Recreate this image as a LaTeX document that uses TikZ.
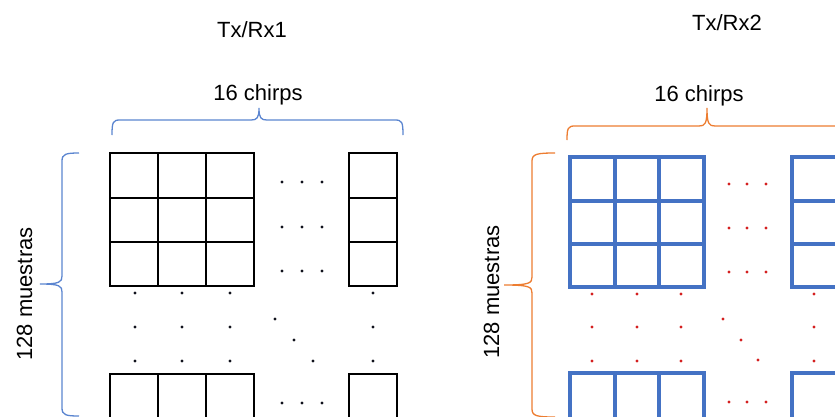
\documentclass[tikz,border=0pt]{standalone}
\usepackage{fontspec}
\setmainfont{Liberation Sans}
\definecolor{cellblue}{HTML}{4472C4}
\definecolor{braceblue}{HTML}{5B85D0}
\definecolor{braceorange}{HTML}{ED7D31}
\definecolor{dotred}{HTML}{D42020}
\definecolor{dotdark}{HTML}{10121C}
\begin{document}
\begin{tikzpicture}[x=1pt,y=-1pt,
  cellsA/.style={draw=black,line width=2.4pt},
  cellsB/.style={draw=cellblue,line width=3.2pt},
  braceA/.style={draw=braceblue,line width=1.3pt},
  braceB/.style={draw=braceorange,line width=1.3pt},
  lbl/.style={font=\fontsize{22}{26}\selectfont,text=black,inner sep=0pt,anchor=base},
  dotA/.style={fill=dotdark},
  dotB/.style={fill=dotred}]
\useasboundingbox (0,0) rectangle (835,416);
\clip (0,0) rectangle (835,416);

% ---------------- first matrix (Tx/Rx1) ----------------
\node[lbl] (title1) at (252,37) {Tx/Rx1};
\node[lbl] (chirps1) at (258,100) {16 chirps};
\node[lbl,rotate=90] (samples1) at (32,294) {128 muestras};

% brace over the chirps
\draw[braceA] (112,135) .. controls (112,122) and (113,120) .. (120,120) -- (251,120)
  .. controls (257,120) and (259,118) .. (259,108)
  .. controls (259,118) and (261,120) .. (267,120) -- (395,120)
  .. controls (402,120) and (403,122) .. (403,135);
% brace beside the samples
\draw[braceA] (79,153) .. controls (66,153) and (62,154) .. (62,161) -- (62,276)
  .. controls (62,282) and (60,284) .. (40,284)
  .. controls (60,284) and (62,286) .. (62,292) -- (62,408)
  .. controls (62,415) and (66,416) .. (79,416);

% 3x3 block of cells
\draw[cellsA] (110,153) rectangle (254,286);
\foreach \x in {158,206} \draw[cellsA] (\x,153) -- (\x,286);
\foreach \y in {198,242} \draw[cellsA] (110,\y) -- (254,\y);
% last column
\draw[cellsA] (349,153) rectangle (397,286);
\foreach \y in {198,242} \draw[cellsA] (349,\y) -- (397,\y);
% last row
\draw[cellsA] (110,374) rectangle (254,440);
\foreach \x in {158,206} \draw[cellsA] (\x,374) -- (\x,440);
\draw[cellsA] (349,374) rectangle (397,440);

% ellipsis dots
\foreach \y in {182,227,271,403}
  \foreach \x in {282,302,322} \fill[dotA] (\x,\y) circle (1.6);
\foreach \x in {135,182,230,373}
  \foreach \y in {293,327,361} \fill[dotA] (\x,\y) circle (1.6);
\foreach \p in {(275,319),(294,340),(313,361)} \fill[dotA] \p circle (1.6);

% ---------------- second matrix (Tx/Rx2) ----------------
\node[lbl] (title2) at (727,30) {Tx/Rx2};
\node[lbl] (chirps2) at (699,101) {16 chirps};
\node[lbl,rotate=90] (samples2) at (499,292) {128 muestras};

% brace over the chirps
\draw[braceB] (567,140) .. controls (567,128) and (568,126) .. (575,126) -- (699,126)
  .. controls (705,126) and (707,124) .. (707,108)
  .. controls (707,124) and (709,126) .. (715,126) -- (839,126)
  .. controls (846,126) and (847,128) .. (847,140);
% brace beside the samples
\draw[braceB] (555,153) .. controls (537,153) and (532,154) .. (532,161) -- (532,277)
  .. controls (532,283) and (530,285) .. (504,285)
  .. controls (530,285) and (532,287) .. (532,293) -- (532,409)
  .. controls (532,416) and (537,417) .. (555,417);

% 3x3 block of cells
\draw[cellsB] (570,157) rectangle (704,287);
\foreach \x in {615,659} \draw[cellsB] (\x,157) -- (\x,287);
\foreach \y in {201,244} \draw[cellsB] (570,\y) -- (704,\y);
% last column
\draw[cellsB] (792,157) rectangle (837,287);
\foreach \y in {201,244} \draw[cellsB] (792,\y) -- (837,\y);
% last row
\draw[cellsB] (570,373) rectangle (704,440);
\foreach \x in {615,659} \draw[cellsB] (\x,373) -- (\x,440);
\draw[cellsB] (792,373) rectangle (837,440);

% ellipsis dots
\foreach \y in {184,228,272,402}
  \foreach \x in {729,747,766} \fill[dotB] (\x,\y) circle (1.6);
\foreach \x in {592,637,681,814}
  \foreach \y in {294,327,361} \fill[dotB] (\x,\y) circle (1.6);
\foreach \p in {(723,319),(741,340),(758,360)} \fill[dotB] \p circle (1.6);
\end{tikzpicture}
\end{document}
